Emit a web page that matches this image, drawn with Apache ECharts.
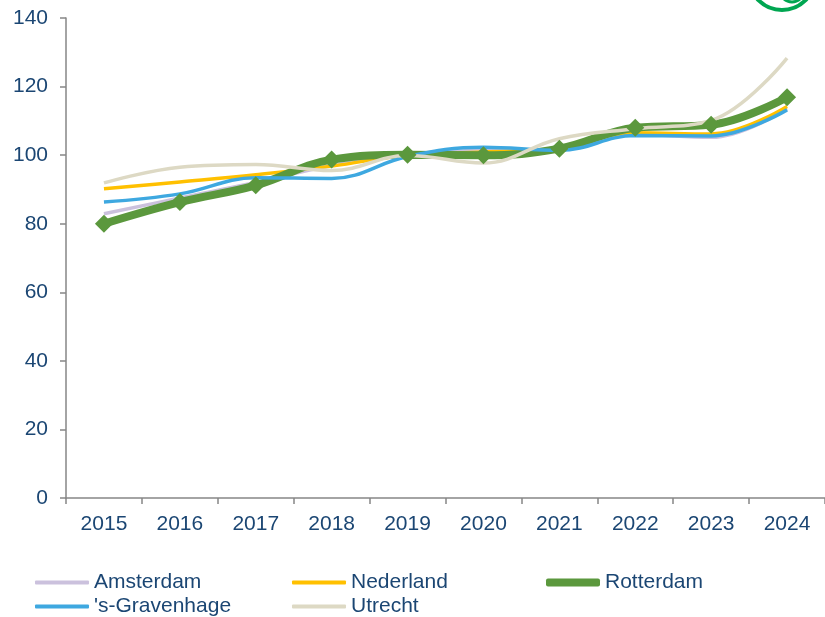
<!DOCTYPE html>
<html>
<head>
<meta charset="utf-8">
<script src="https://cdn.jsdelivr.net/npm/echarts@6/dist/echarts.min.js"></script>
<style>
  html, body { margin: 0; padding: 0; background: #fff; }
  #chart { width: 825px; height: 617px; }
</style>
</head>
<body>
<div id="chart"></div>
<script>
var years = ['2015', '2016', '2017', '2018', '2019', '2020', '2021', '2022', '2023', '2024'];
var amsterdam = [82.9, 87.5, 92.0, 97.0, 100, 101.4, 101.6, 106.0, 105.2, 113.5];
var nederland = [90.2, 92.2, 94.3, 96.8, 100, 100.9, 102.0, 106.5, 106.2, 114.2];
var rotterdam = [80.0, 86.3, 91.2, 98.7, 100.1, 100.0, 101.9, 108.0, 108.9, 116.9];
var gravenhage = [86.3, 88.7, 93.4, 93.2, 99.6, 102.3, 101.4, 105.7, 105.6, 113.2];
var utrecht = [91.9, 96.5, 97.3, 95.5, 99.9, 97.7, 104.8, 107.7, 110.1, 128.3];

var txt = '#1b4673';
var font = '"Liberation Sans", Arial, sans-serif';
var myChart = echarts.init(document.getElementById('chart'));

// one legend per entry so the columns line up like the original
function leg(name, left, top, h) {
	return {
		data: [{ name: name, icon: 'roundRect' }], left: left, top: top,
		itemWidth: 54, itemHeight: h, itemGap: 0,
		textStyle: { color: txt, fontSize: 21, fontFamily: font, padding: [0, 0, 0, 0] },
		padding: 0
	};
}

var option = {
	animation: false,
	textStyle: { fontFamily: font },
	grid: { left: 66, top: 18, bottom: 119, right: -7 },
	legend: [
		leg('Amsterdam', 35, 572, 4),
		leg('Nederland', 292, 572, 4),
		leg('Rotterdam', 546, 572, 8),
		leg("'s-Gravenhage", 35, 596, 4),
		leg('Utrecht', 292, 596, 4)
	],
	graphic: [
		{ type: 'circle', shape: { cx: 782, cy: -23, r: 33 }, style: { fill: 'none', stroke: '#00a651', lineWidth: 4 } },
		{ type: 'circle', shape: { cx: 792, cy: -10, r: 12 }, style: { fill: 'none', stroke: '#00a651', lineWidth: 3 } }
	],
	xAxis: {
		type: 'category',
		data: years,
		boundaryGap: true,
		axisLine: { lineStyle: { color: '#868686', width: 1.5 } },
		axisTick: { show: true, length: 6, lineStyle: { color: '#868686', width: 1.5 } },
		axisLabel: { color: txt, fontSize: 21, margin: 16, fontFamily: font }
	},
	yAxis: {
		type: 'value',
		min: 0, max: 140, interval: 20,
		splitLine: { show: false },
		axisLine: { show: true, lineStyle: { color: '#868686', width: 1.5 } },
		axisTick: { show: true, length: 6, lineStyle: { color: '#868686', width: 1.5 } },
		axisLabel: { color: txt, fontSize: 21, margin: 18, fontFamily: font }
	},
	series: [
		{ name: 'Amsterdam', type: 'line', data: amsterdam, smooth: 0.4, symbol: 'none',
		  lineStyle: { color: '#cbc1dd', width: 3.5 }, itemStyle: { color: '#cbc1dd' } },
		{ name: 'Nederland', type: 'line', data: nederland, smooth: 0.4, symbol: 'none',
		  lineStyle: { color: '#ffc000', width: 3.5 }, itemStyle: { color: '#ffc000' } },
		{ name: 'Rotterdam', type: 'line', data: rotterdam, smooth: 0.4, symbol: 'diamond', symbolSize: 18,
		  lineStyle: { color: '#5b983d', width: 8 }, itemStyle: { color: '#5b983d' } },
		{ name: "'s-Gravenhage", type: 'line', data: gravenhage, smooth: 0.4, symbol: 'none',
		  lineStyle: { color: '#3ea8e0', width: 3.5 }, itemStyle: { color: '#3ea8e0' } },
		{ name: 'Utrecht', type: 'line', data: utrecht, smooth: 0.4, symbol: 'none',
		  lineStyle: { color: '#ddd9c4', width: 3.5 }, itemStyle: { color: '#ddd9c4' } }
	]
};
myChart.setOption(option);
</script>
</body>
</html>
